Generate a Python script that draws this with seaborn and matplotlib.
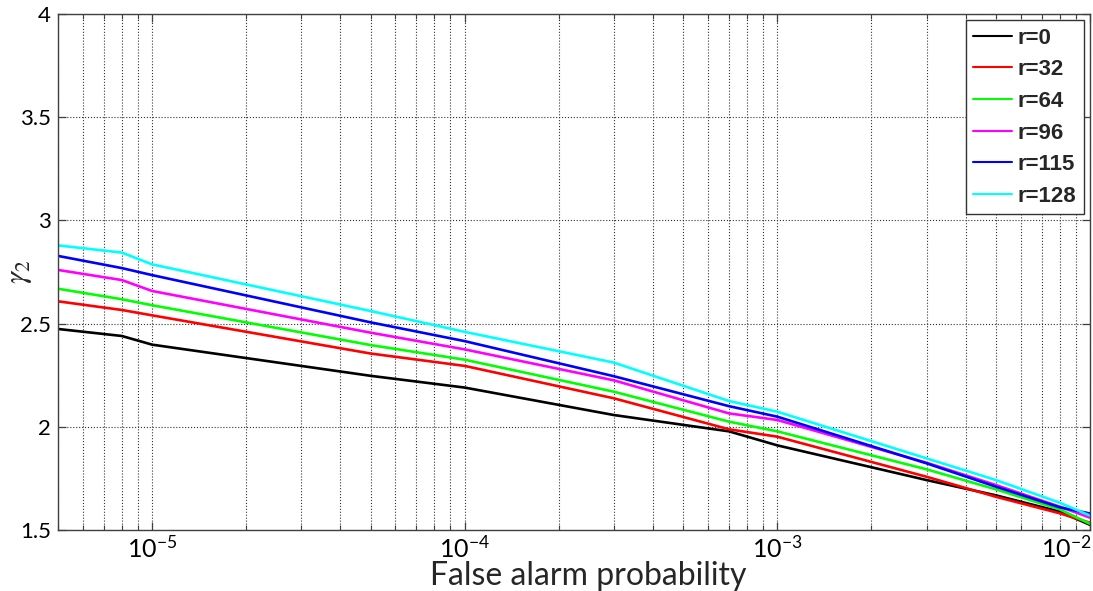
import numpy as np
import pandas as pd
import matplotlib
matplotlib.use("Agg")
import matplotlib.pyplot as plt
import matplotlib.transforms as mtransforms
import seaborn as sns
from matplotlib.ticker import FixedLocator, LogLocator, NullFormatter

# False alarm probabilities at which the threshold was evaluated
false_alarm = [5e-6, 8e-6, 1e-5, 5e-5, 1e-4, 3e-4, 7e-4, 1e-3, 3e-3, 5e-3, 8e-3, 1e-2]

# Threshold gamma_2 for each value of r
gamma_r0 = [2.474, 2.440, 2.398, 2.247, 2.190, 2.057, 1.978, 1.910, 1.742, 1.668, 1.589, 1.525]
gamma_r32 = [2.608, 2.566, 2.540, 2.355, 2.295, 2.138, 1.988, 1.952, 1.758, 1.661, 1.581, 1.535]
gamma_r64 = [2.669, 2.618, 2.589, 2.396, 2.325, 2.170, 2.025, 1.978, 1.794, 1.697, 1.600, 1.530]
gamma_r96 = [2.760, 2.711, 2.658, 2.456, 2.375, 2.225, 2.065, 2.033, 1.826, 1.718, 1.613, 1.560]
gamma_r115 = [2.828, 2.769, 2.735, 2.506, 2.415, 2.245, 2.100, 2.049, 1.823, 1.710, 1.610, 1.580]
gamma_r128 = [2.879, 2.844, 2.787, 2.561, 2.460, 2.311, 2.125, 2.073, 1.847, 1.742, 1.632, 1.570]

series_labels = ["r=0", "r=32", "r=64", "r=96", "r=115", "r=128"]
line_colors = ["#000000", "#ff0000", "#00ff00", "#ff00ff", "#0000ff", "#00ffff"]

y_ticks = [1.5, 2, 2.5, 3, 3.5, 4]
y_tick_labels = ["1.5", "2", "2.5", "3", "3.5", "4"]
x_ticks = [1e-5, 1e-4, 1e-3, 1e-2]
x_tick_labels = [r"$\mathregular{10^{-5}}$", r"$\mathregular{10^{-4}}$",
                 r"$\mathregular{10^{-3}}$", r"$\mathregular{10^{-2}}$"]

all_series = [gamma_r0, gamma_r32, gamma_r64, gamma_r96, gamma_r115, gamma_r128]
frames = []
for label, values in zip(series_labels, all_series):
    frames.append(pd.DataFrame({"pfa": false_alarm, "gamma": values, "r": label}))
df = pd.concat(frames, ignore_index=True)

sns.set_style("white")
plt.rcParams["font.family"] = ["Lato", "DejaVu Sans"]
plt.rcParams["mathtext.fontset"] = "stix"

W, H = 1093, 591
fig = plt.figure(figsize=(W / 100, H / 100), dpi=100)
left, right, top, bottom = 58, 1090, 14, 530
ax = fig.add_axes([left / W, 1 - bottom / H, (right - left) / W, (bottom - top) / H])

sns.lineplot(data=df, x="pfa", y="gamma", hue="r", hue_order=series_labels,
             palette=line_colors, estimator=None, sort=False, linewidth=1.9,
             ax=ax, legend=True)

ax.set_xscale("log")
ax.set_xlim(5e-6, 1e-2)
ax.set_ylim(1.5, 4)

ax.xaxis.set_major_locator(FixedLocator(x_ticks))
ax.set_xticklabels(x_tick_labels)
ax.xaxis.set_minor_locator(LogLocator(base=10, subs=np.arange(2, 10)))
ax.xaxis.set_minor_formatter(NullFormatter())
ax.set_yticks(y_ticks)
ax.set_yticklabels(y_tick_labels)

ax.tick_params(which="both", direction="in", top=True, right=True,
               bottom=True, left=True, colors="#404040", labelcolor="black")
ax.tick_params(which="major", length=6, width=0.9, labelsize=16, pad=5)
ax.tick_params(axis="x", which="major", labelsize=18, pad=4)
ax.tick_params(which="minor", length=3.5, width=0.8)

# keep the last decade label inside the figure
last_label = ax.get_xticklabels()[-1]
last_label.set_horizontalalignment("right")
last_label.set_transform(last_label.get_transform() +
                         mtransforms.ScaledTranslation(2 / 100, 0, fig.dpi_scale_trans))

ax.set_axisbelow(True)
ax.grid(which="major", axis="both", linestyle=":", color="#333333", linewidth=0.8)
ax.grid(which="minor", axis="x", linestyle=":", color="#333333", linewidth=0.8)

for spine in ax.spines.values():
    spine.set_color("#404040")
    spine.set_linewidth(1.0)

ax.set_xlabel("False alarm probability", fontsize=23)
ax.xaxis.set_label_coords(0.514, -0.061)
ax.xaxis.label.set_va("top")
ax.set_ylabel(r"$\gamma_2$", fontsize=22)
ax.yaxis.set_label_coords(-0.037, 0.5)
ax.yaxis.label.set_va("center")

handles, labels = ax.get_legend_handles_labels()
leg = ax.legend(handles, labels, loc="upper right", frameon=True, fancybox=False,
                prop={"family": "Liberation Sans", "weight": "bold", "size": 16},
                handlelength=1.75, handletextpad=0.27, labelspacing=0.48,
                borderpad=0.33, borderaxespad=0.28, framealpha=1)
leg.get_frame().set_edgecolor("#333333")
leg.get_frame().set_linewidth(1.0)
for line in leg.get_lines():
    line.set_linewidth(1.5)

fig.savefig("out.png", dpi=100, facecolor="white")
